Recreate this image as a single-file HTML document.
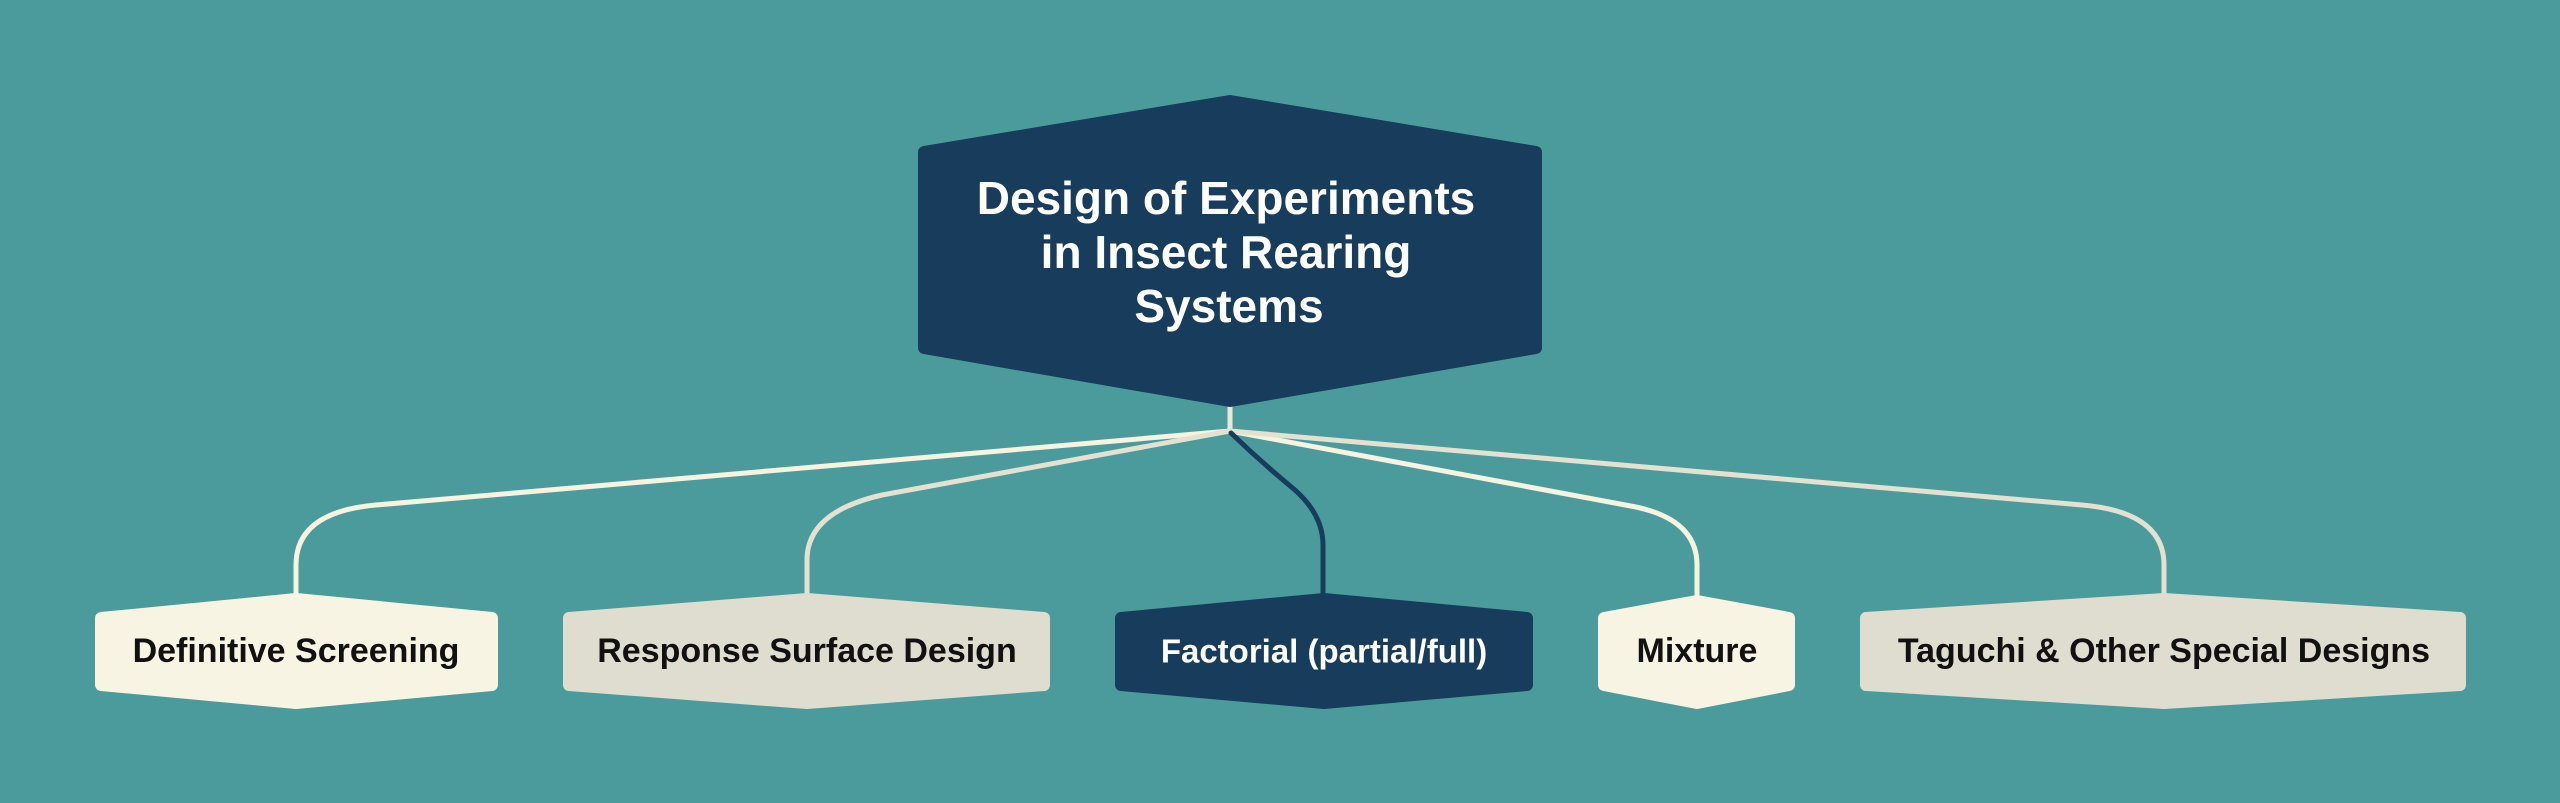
<!DOCTYPE html>
<html><head><meta charset="utf-8"><style>
html,body{margin:0;padding:0;background:#4b9b9c;}
svg{display:block;}
text{font-family:"Liberation Sans",sans-serif;font-weight:bold;}
</style></head><body>
<svg width="2560" height="803" viewBox="0 0 2560 803" xmlns="http://www.w3.org/2000/svg">
<rect width="2560" height="803" fill="#4b9b9c"/>
<g fill="none" stroke-width="5" stroke-linecap="round">
<path d="M1230 407 L1230 431" stroke="#e9e8d8"/>
<path d="M1230 431 L376 505 Q296 512 296 565 L296 600" stroke="#f6f3e0"/>
<path d="M1230 431 L882 495 Q807 512 807 560 L807 600" stroke="#e2e1d2"/>
<path d="M1230 431 L1636 507 Q1697 520 1697 565 L1697 600" stroke="#f6f3e0"/>
<path d="M1230 431 L2082 505 Q2164 512 2164 565 L2164 600" stroke="#e2e1d2"/>
<path d="M1231 433 Q1262 463 1295 490 Q1323 515 1323 545 L1323 600" stroke="#173c5c"/>
</g>
<g stroke-linejoin="round" stroke-width="12">
<polygon points="924,152 1230,101 1536,152 1536,348 1230,401 924,348" fill="#173c5c" stroke="#173c5c"/>
<polygon points="101,618 296,599 492,618 492,685 296,703 101,685" fill="#f8f4e3" stroke="#f8f4e3"/>
<polygon points="569,618 807,599 1044,618 1044,685 807,703 569,685" fill="#dfddd0" stroke="#dfddd0"/>
<polygon points="1121,618 1324,599 1527,618 1527,685 1324,703 1121,685" fill="#173c5c" stroke="#173c5c"/>
<polygon points="1604,618 1697,601 1789,618 1789,685 1697,703 1604,685" fill="#f8f4e3" stroke="#f8f4e3"/>
<polygon points="1866,618 2164,599 2460,618 2460,685 2164,703 1866,685" fill="#dfddd0" stroke="#dfddd0"/>
</g>
<g text-anchor="middle" dominant-baseline="central">
<text x="1226" y="198" font-size="46" fill="#ffffff">Design of Experiments</text>
<text x="1226" y="252" font-size="46" fill="#ffffff">in Insect Rearing</text>
<text x="1229" y="306" font-size="46" fill="#ffffff">Systems</text>
<text x="296" y="651" font-size="34" fill="#111111">Definitive Screening</text>
<text x="807" y="651" font-size="34" fill="#111111">Response Surface Design</text>
<text x="1324" y="651" font-size="33" fill="#ffffff">Factorial (partial/full)</text>
<text x="1697" y="651" font-size="34" fill="#111111">Mixture</text>
<text x="2164" y="651" font-size="34" fill="#111111">Taguchi &amp; Other Special Designs</text>
</g>
</svg>
</body></html>
